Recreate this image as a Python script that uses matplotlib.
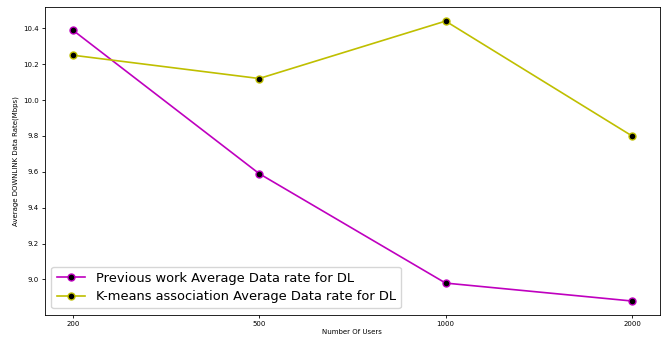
import numpy as np
from matplotlib import pyplot as plt

users = ["200", "500", "1000", "2000"]
prevRate = [10.39, 9.59, 8.98, 8.88]
kmeansRate = [10.25, 10.12, 10.44, 9.80]

fig = plt.figure(figsize=(6.68, 3.38), dpi=100)
ax = fig.add_axes([0.067, 0.068, 0.921, 0.911])

ax.plot(users, prevRate, color="m", marker="o", markersize=5,
        markerfacecolor="black", markeredgecolor="m", linewidth=1.2,
        label="Previous work Average Data rate for DL")
ax.plot(users, kmeansRate, color="y", marker="o", markersize=5,
        markerfacecolor="black", markeredgecolor="y", linewidth=1.2,
        label="K-means association Average Data rate for DL")

ax.set_xlabel("Number Of Users", fontsize=5, labelpad=1)
ax.set_ylabel("Average DOWNLINK Data Rate(Mbps)", fontsize=5, labelpad=3)
ax.tick_params(labelsize=5, length=2.5, width=0.6, pad=2)
for s in ax.spines.values():
    s.set_linewidth(0.6)
ax.legend(loc="lower left", fontsize=9.4, handlelength=2.2, borderpad=0.4,
          labelspacing=0.4, handletextpad=0.8)

plt.savefig("out.png")
